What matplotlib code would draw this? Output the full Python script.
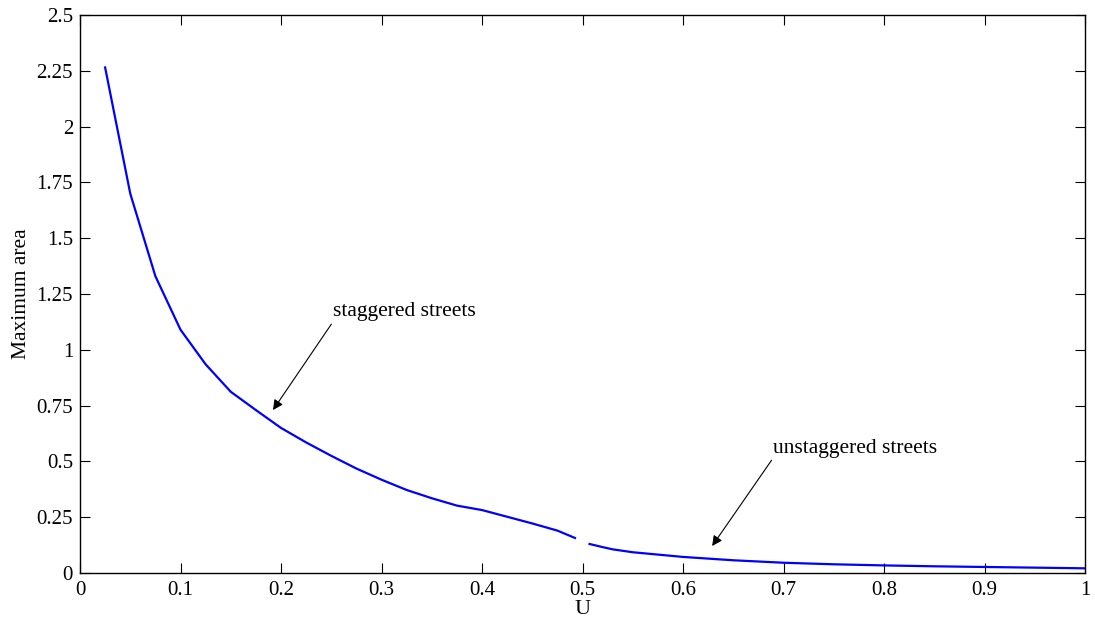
import matplotlib
matplotlib.use("Agg")
import matplotlib.pyplot as plt

# staggered streets branch
u_stag = [0.025, 0.05, 0.075, 0.1, 0.125, 0.15, 0.175, 0.2, 0.225, 0.25, 0.275,
          0.3, 0.325, 0.35, 0.375, 0.4, 0.425, 0.45, 0.475, 0.4925]
a_stag = [2.265, 1.70, 1.33, 1.09, 0.935, 0.812, 0.73, 0.65, 0.585, 0.525, 0.468,
          0.418, 0.372, 0.335, 0.302, 0.282, 0.252, 0.222, 0.19, 0.157]

# unstaggered streets branch
u_unst = [0.507, 0.52, 0.53, 0.55, 0.6, 0.65, 0.7, 0.75, 0.8, 0.85, 0.9, 0.95, 1.0]
a_unst = [0.130, 0.116, 0.106, 0.093, 0.072, 0.057, 0.046, 0.039, 0.034, 0.030,
          0.027, 0.024, 0.021]

xticks = [0, 0.1, 0.2, 0.3, 0.4, 0.5, 0.6, 0.7, 0.8, 0.9, 1]
xticklabels = ["0", "0.1", "0.2", "0.3", "0.4", "0.5", "0.6", "0.7", "0.8", "0.9", "1"]
yticks = [0, 0.25, 0.5, 0.75, 1, 1.25, 1.5, 1.75, 2, 2.25, 2.5]
yticklabels = ["0", "0.25", "0.5", "0.75", "1", "1.25", "1.5", "1.75", "2", "2.25", "2.5"]

plt.rcParams['font.family'] = ['Liberation Serif', 'DejaVu Serif']

fig = plt.figure(figsize=(10.95, 6.19), dpi=100)
ax = fig.add_axes([80/1095, 1 - 573/619, 1005/1095, 558/619])

ax.plot(u_stag, a_stag, color='#0000ff', lw=1.6)
ax.plot(u_unst, a_unst, color='#0000ff', lw=1.6)

ax.set_xlim(0, 1)
ax.set_ylim(0, 2.5)
ax.set_xticks(xticks)
ax.set_xticklabels(xticklabels)
ax.set_yticks(yticks)
ax.set_yticklabels(yticklabels)
ax.tick_params(direction='in', length=7, width=0.8, top=True, right=True,
               labelsize=15, pad=5)
ax.tick_params(axis='x', pad=6)
for s in ax.spines.values():
    s.set_linewidth(1.0)

ax.set_xlabel("U", fontsize=16, labelpad=0)
ax.set_ylabel("Maximum area", fontsize=15.5, labelpad=4)

ax.annotate("staggered streets", xy=(0.192, 0.73), xytext=(0.252, 1.17),
            fontsize=15.5, va='center', ha='left',
            arrowprops=dict(arrowstyle='-|>', color='black', lw=0.8,
                            mutation_scale=15, shrinkA=0, shrinkB=0,
                            relpos=(0.0, 0.0)))
ax.annotate("unstaggered streets", xy=(0.629, 0.121), xytext=(0.690, 0.56),
            fontsize=15.5, va='center', ha='left',
            arrowprops=dict(arrowstyle='-|>', color='black', lw=0.8,
                            mutation_scale=15, shrinkA=0, shrinkB=0,
                            relpos=(0.0, 0.0)))

fig.savefig("out.png", dpi=100)
